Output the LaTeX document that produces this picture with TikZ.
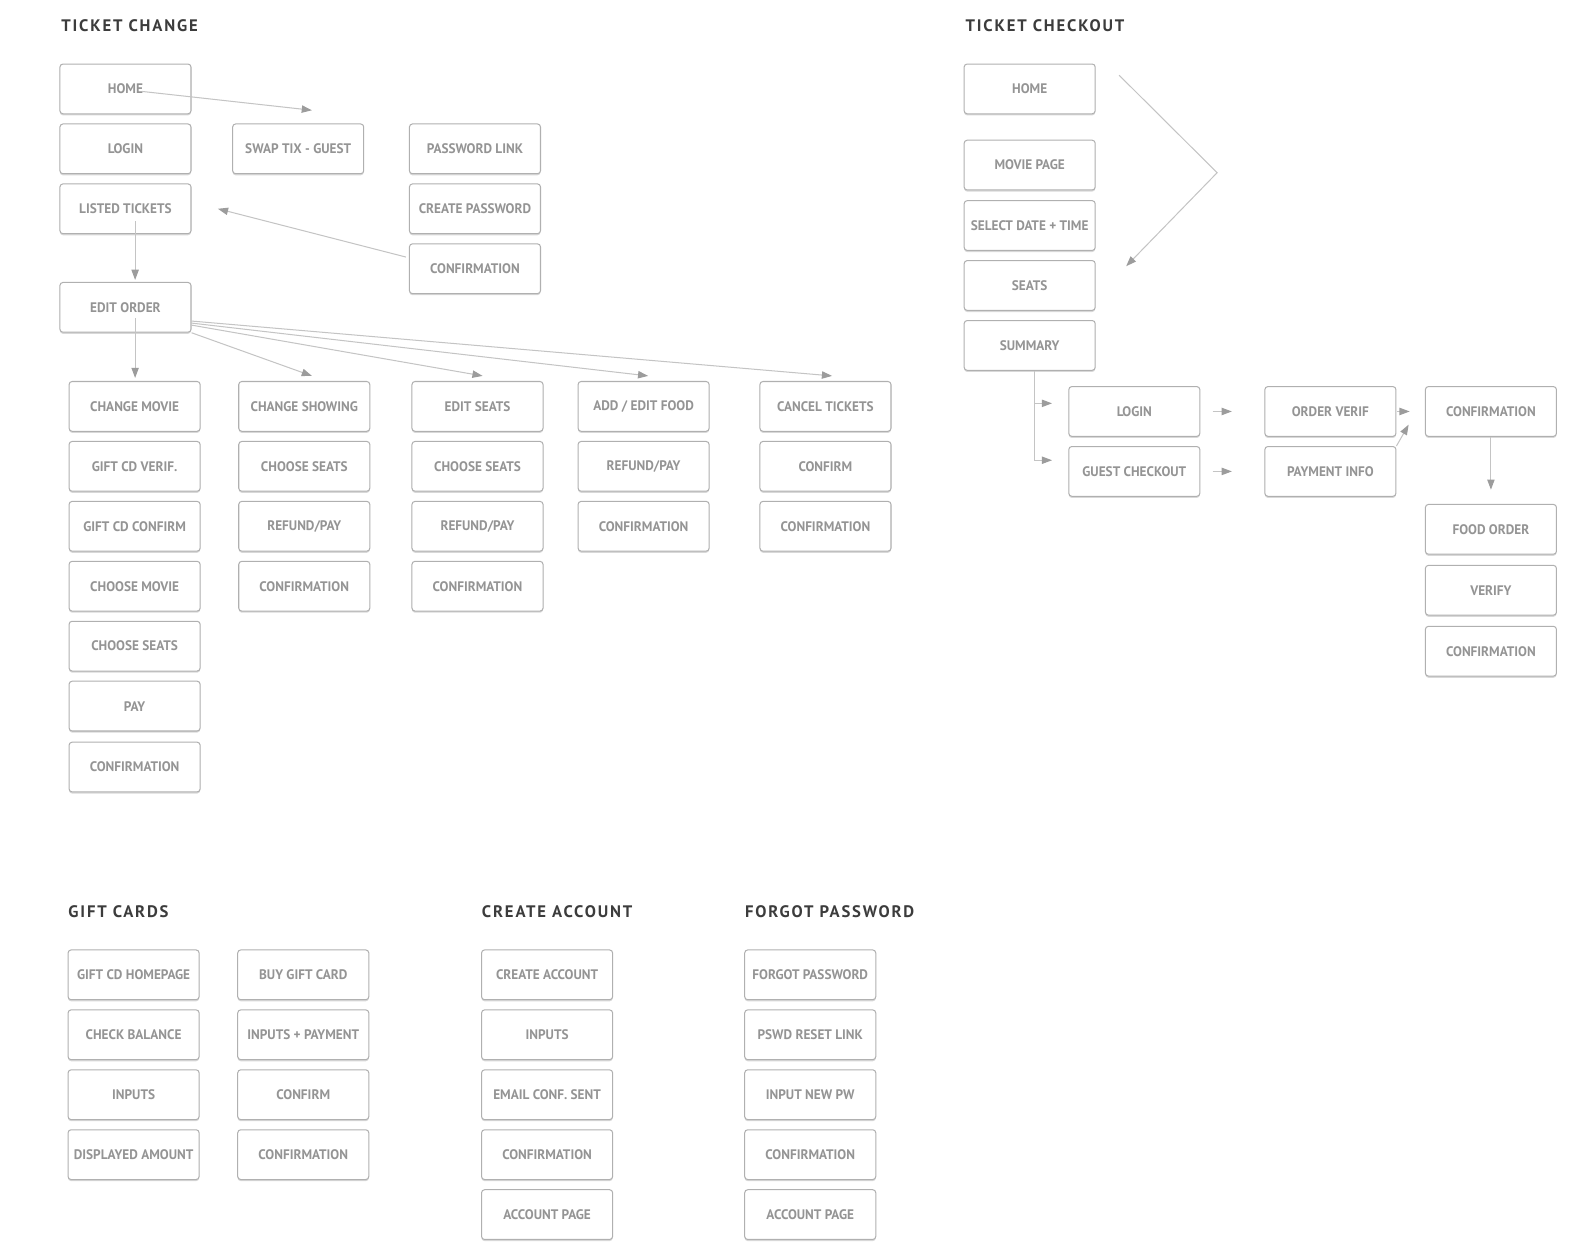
\documentclass[tikz,border=0pt]{standalone}
\usepackage{fontspec}
\setmainfont{PT Sans}
\usetikzlibrary{arrows.meta,shadows}
\definecolor{boxline}{HTML}{B0B0B0}
\definecolor{boxtext}{HTML}{949494}
\definecolor{headtext}{HTML}{3C3C3C}
\definecolor{flowline}{HTML}{C4C4C4}
\definecolor{flowtip}{HTML}{9C9C9C}
\begin{document}
\begin{tikzpicture}[x=0.5pt,y=-0.5pt,
	screen/.style={draw=boxline, line width=0.5pt, rounded corners=1.5pt, fill=white,
		minimum width=64.5pt, minimum height=24.5pt, inner sep=0pt, text=boxtext,
		font=\bfseries\fontsize{6.8}{8}\selectfont\addfontfeature{FakeStretch=0.96},
		drop shadow={shadow xshift=0pt, shadow yshift=-0.8pt, opacity=0.3, fill=black!50}},
	heading/.style={anchor=west, inner sep=0pt, text=headtext,
		font=\bfseries\fontsize{8.2}{10}\selectfont\addfontfeature{LetterSpace=11}},
	flow/.style={draw=flowline, line width=0.5pt, -{Triangle[length=5pt,width=3.6pt,color=flowtip]}}]
			\fill[white] (0,0) rectangle (1567,1237);
			\useasboundingbox (0,0) rectangle (1567,1237);
			
			% ticket change
			\node[heading] (tcTitle) at (60,25) {TICKET CHANGE};
			\node[screen] (tcHome) at (123.5,87.5) {HOME};
			\node[screen] (tcLogin) at (123.5,146.5) {LOGIN};
			\node[screen] (tcListed) at (123.5,205.5) {LISTED TICKETS};
			\node[screen] (tcEdit) at (123.5,302.5) {EDIT ORDER};
			\node[screen] (tcSwap) at (293.5,146.5) {SWAP TIX - GUEST};
			\node[screen] (tcPwLink) at (467.5,146.5) {PASSWORD LINK};
			\node[screen] (tcPwCreate) at (467.5,205.5) {CREATE PASSWORD};
			\node[screen] (tcPwConf) at (467.5,264.5) {CONFIRMATION};
			
			\node[screen] (cmA) at (132.5,400) {CHANGE MOVIE};
			\node[screen] (cmB) at (132.5,459) {GIFT CD VERIF.};
			\node[screen] (cmC) at (132.5,518) {GIFT CD CONFIRM};
			\node[screen] (cmD) at (132.5,577) {CHOOSE MOVIE};
			\node[screen] (cmE) at (132.5,636) {CHOOSE SEATS};
			\node[screen] (cmF) at (132.5,695) {PAY};
			\node[screen] (cmG) at (132.5,755) {CONFIRMATION};
			
			\node[screen] (csA) at (299.5,400) {CHANGE SHOWING};
			\node[screen] (csB) at (299.5,459) {CHOOSE SEATS};
			\node[screen] (csC) at (299.5,518) {REFUND/PAY};
			\node[screen] (csD) at (299.5,577) {CONFIRMATION};
			
			\node[screen] (esA) at (470,400) {EDIT SEATS};
			\node[screen] (esB) at (470,459) {CHOOSE SEATS};
			\node[screen] (esC) at (470,518) {REFUND/PAY};
			\node[screen] (esD) at (470,577) {CONFIRMATION};
			
			\node[screen] (efA) at (633.5,400) {ADD / EDIT FOOD};
			\node[screen] (efB) at (633.5,459) {REFUND/PAY};
			\node[screen] (efC) at (633.5,518) {CONFIRMATION};
			
			\node[screen] (ctA) at (812.5,400) {CANCEL TICKETS};
			\node[screen] (ctB) at (812.5,459) {CONFIRM};
			\node[screen] (ctC) at (812.5,518) {CONFIRMATION};
			
			\draw[flow] ([shift={(16.5,2.5)}]tcHome.center) -- ([shift={(13.5,-13)}]tcSwap.north);
			\draw[flow] ([shift={(9.5,12.5)}]tcListed.center) -- ([shift={(9.5,-2)}]tcEdit.north);
			\draw[flow] ([shift={(-3,-11.5)}]tcPwConf.west) -- ([shift={(26,0)}]tcListed.east);
			\draw[flow] ([shift={(9.5,10.5)}]tcEdit.center) -- ([shift={(0.5,-3)}]cmA.north);
			\draw[flow] (tcEdit.south east) -- ([shift={(7.5,-5)}]csA.north);
			\draw[flow] ([shift={(0,17.5)}]tcEdit.east) -- ([shift={(5,-5)}]esA.north);
			\draw[flow] ([shift={(0,15.5)}]tcEdit.east) -- ([shift={(4.5,-5)}]efA.north);
			\draw[flow] ([shift={(0,13.5)}]tcEdit.east) -- ([shift={(6.5,-5)}]ctA.north);
			
			% ticket checkout
			\node[heading] (tcoTitle) at (950,25) {TICKET CHECKOUT};
			\node[screen] (tcoHome) at (1013.5,87.5) {HOME};
			\node[screen] (tcoMovie) at (1013.5,162.5) {MOVIE PAGE};
			\node[screen] (tcoDate) at (1013.5,222) {SELECT DATE + TIME};
			\node[screen] (tcoSeats) at (1013.5,281) {SEATS};
			\node[screen] (tcoSummary) at (1013.5,340) {SUMMARY};
			\node[screen] (tcoLogin) at (1116.5,405) {LOGIN};
			\node[screen] (tcoGuest) at (1116.5,464) {GUEST CHECKOUT};
			\node[screen] (tcoVerif) at (1309.5,405) {ORDER VERIF};
			\node[screen] (tcoPay) at (1309.5,464) {PAYMENT INFO};
			\node[screen] (tcoConf) at (1467.5,405) {CONFIRMATION};
			\node[screen] (tcoFood) at (1467.5,521) {FOOD ORDER};
			\node[screen] (tcoVerify) at (1467.5,581) {VERIFY};
			\node[screen] (tcoDone) at (1467.5,641) {CONFIRMATION};
			\coordinate (tcoBend) at (1198,170);
			
			\draw[flow] ([shift={(23,-13.5)}]tcoHome.east) -- (tcoBend) -- ([shift={(30,-19)}]tcoSeats.east);
			\draw[flow] ([xshift=2.25pt]tcoSummary.south) |- ([shift={(-16,-8)}]tcoLogin.west);
			\draw[flow] ([xshift=2.25pt]tcoSummary.south) |- ([shift={(-16,-11)}]tcoGuest.west);
			\draw[flow] ([shift={(12,0)}]tcoLogin.east) -- ([shift={(-32,0)}]tcoVerif.west);
			\draw[flow] ([shift={(12,0)}]tcoGuest.east) -- ([shift={(-32,0)}]tcoPay.west);
			\draw[flow] ([shift={(1,0)}]tcoVerif.east) -- ([shift={(-15,0)}]tcoConf.west);
			\draw[flow] (tcoPay.north east) -- ([shift={(-16,13)}]tcoConf.west);
			\draw[flow] (tcoConf.south) -- ([shift={(0,-14)}]tcoFood.north);
			
			% gift cards
			\node[heading] (gcTitle) at (67,897) {GIFT CARDS};
			\node[screen] (gcHome) at (131.5,959.5) {GIFT CD HOMEPAGE};
			\node[screen] (gcBalance) at (131.5,1018.5) {CHECK BALANCE};
			\node[screen] (gcInputs) at (131.5,1077.5) {INPUTS};
			\node[screen] (gcAmount) at (131.5,1136.5) {DISPLAYED AMOUNT};
			\node[screen] (gcBuy) at (298.5,959.5) {BUY GIFT CARD};
			\node[screen] (gcPay) at (298.5,1018.5) {INPUTS + PAYMENT};
			\node[screen] (gcConfirm) at (298.5,1077.5) {CONFIRM};
			\node[screen] (gcConf) at (298.5,1136.5) {CONFIRMATION};
			
			% create account
			\node[heading] (caTitle) at (474,897) {CREATE ACCOUNT};
			\node[screen] (caStart) at (538.5,959.5) {CREATE ACCOUNT};
			\node[screen] (caInputs) at (538.5,1018.5) {INPUTS};
			\node[screen] (caMail) at (538.5,1077.5) {EMAIL CONF. SENT};
			\node[screen] (caConf) at (538.5,1136.5) {CONFIRMATION};
			\node[screen] (caPage) at (538.5,1195.5) {ACCOUNT PAGE};
			
			% forgot password
			\node[heading] (fpTitle) at (733,897) {FORGOT PASSWORD};
			\node[screen] (fpStart) at (797.5,959.5) {FORGOT PASSWORD};
			\node[screen] (fpLink) at (797.5,1018.5) {PSWD RESET LINK};
			\node[screen] (fpInput) at (797.5,1077.5) {INPUT NEW PW};
			\node[screen] (fpConf) at (797.5,1136.5) {CONFIRMATION};
			\node[screen] (fpPage) at (797.5,1195.5) {ACCOUNT PAGE};
		
		\end{tikzpicture}
\end{document}
